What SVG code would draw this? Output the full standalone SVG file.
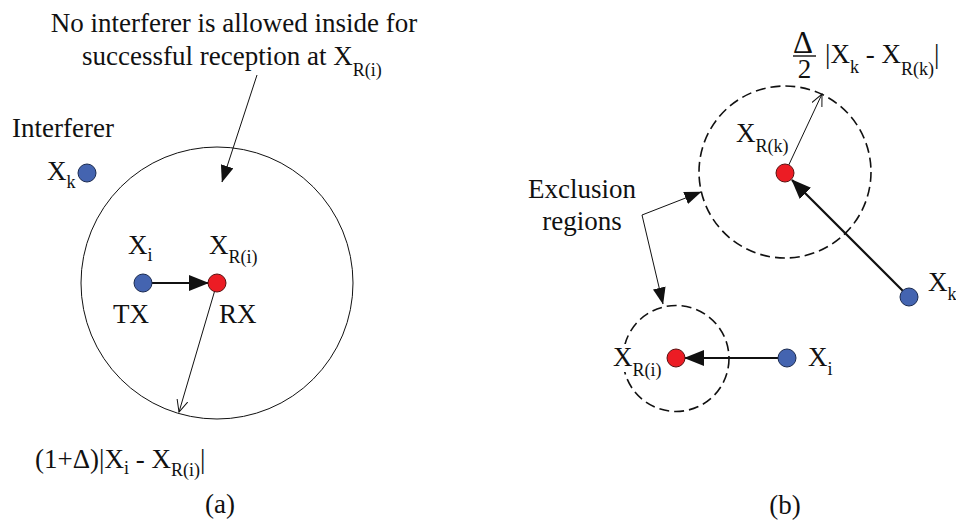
<svg xmlns="http://www.w3.org/2000/svg" width="956" height="524" viewBox="0 0 956 524">
<defs>
<style>
text{font-family:'Liberation Serif','Times New Roman',serif;font-size:27px;fill:#111}
.sub{font-size:18px}
.thin{stroke:#111;stroke-width:1;fill:none}
.thick{stroke:#111;stroke-width:2.2;fill:none}
.dash{stroke:#111;stroke-width:1.6;fill:none;stroke-dasharray:10 5}
.blue{fill:#4464B0;stroke:#1a2a50;stroke-width:1}
.red{fill:#EC1C24;stroke:#5a1010;stroke-width:1}
</style>
<marker id="bigHead" markerUnits="userSpaceOnUse" markerWidth="20" markerHeight="16" viewBox="0 0 20 16" refX="19" refY="8" orient="auto">
<path d="M0,0 L20,8 L0,16 Z" fill="#111"/>
</marker>
<marker id="smallHead" markerUnits="userSpaceOnUse" markerWidth="17" markerHeight="13" viewBox="0 0 17 13" refX="16.5" refY="6.5" orient="auto">
<path d="M0,0 L17,6.5 L0,13 Z" fill="#111"/>
</marker>
<marker id="openHead" markerUnits="userSpaceOnUse" markerWidth="13" markerHeight="12" viewBox="0 0 13 12" refX="12" refY="6" orient="auto">
<path d="M0,0.5 L12,6 L0,11.5" fill="none" stroke="#111" stroke-width="1"/>
</marker>
</defs>
<rect width="956" height="524" fill="#fff"/>

<g id="region-a">
<circle class="thin" cx="217" cy="283" r="136"/>
</g>
<g id="region-b-upper">
<circle class="dash" cx="785" cy="172" r="86"/>
</g>
<g id="region-b-lower">
<circle class="dash" cx="676" cy="358.5" r="53"/>
</g>

<g id="connectors">
<line class="thin" x1="257" y1="75" x2="222" y2="182" marker-end="url(#smallHead)"/>
<line class="thick" x1="152" y1="283" x2="208" y2="283" marker-end="url(#bigHead)"/>
<line class="thin" x1="217" y1="283" x2="179" y2="412" marker-end="url(#openHead)"/>
<line class="thin" x1="785" y1="173" x2="822" y2="94" marker-end="url(#openHead)"/>
<line class="thick" x1="903" y1="291" x2="792" y2="180" marker-end="url(#bigHead)"/>
<line class="thick" x1="778" y1="358" x2="685" y2="358" marker-end="url(#bigHead)"/>
<line class="thin" x1="642" y1="215" x2="701" y2="192" marker-end="url(#smallHead)"/>
<line class="thin" x1="642" y1="215" x2="663" y2="304" marker-end="url(#smallHead)"/>
</g>

<g id="interferer-a">
<circle class="blue" cx="87" cy="173" r="9"/>
<text x="12" y="137">Interferer</text>
<text x="47" y="180">X<tspan class="sub" dy="8">k</tspan></text>
</g>
<g id="tx-a">
<circle class="blue" cx="143" cy="283" r="9"/>
<text x="128" y="254">X<tspan class="sub" dy="7">i</tspan></text>
<text x="113" y="323">TX</text>
</g>
<g id="rx-a">
<circle class="red" cx="217" cy="283" r="9"/>
<text x="209" y="254">X<tspan class="sub" dy="9">R(i)</tspan></text>
<text x="219" y="323">RX</text>
</g>
<g id="label-top">
<text x="234" y="32" text-anchor="middle">No interferer is allowed inside for</text>
<text x="82" y="65">successful reception at X<tspan class="sub" dy="11">R(i)</tspan></text>
</g>
<g id="label-radius-a">
<text x="35" y="468">(1+Δ)|X<tspan class="sub" dy="6">i</tspan><tspan dy="-6"> - X</tspan><tspan class="sub" dy="8">R(i)</tspan><tspan dy="-8">|</tspan></text>
</g>
<text x="220" y="513" text-anchor="middle">(a)</text>

<g id="rk-b">
<circle class="red" cx="785" cy="173" r="9"/>
<text x="736" y="142">X<tspan class="sub" dy="10">R(k)</tspan></text>
</g>
<g id="label-radius-b">
<text x="803" y="53" text-anchor="middle" style="font-size:31px">Δ</text>
<line x1="793" y1="56" x2="816" y2="56" stroke="#111" stroke-width="1.4"/>
<text x="804.5" y="78" text-anchor="middle">2</text>
<text x="825" y="63">|X<tspan class="sub" dy="10">k</tspan><tspan dy="-10"> - X</tspan><tspan class="sub" dy="12">R(k)</tspan><tspan dy="-12">|</tspan></text>
</g>
<g id="xk-b">
<circle class="blue" cx="909" cy="297" r="9"/>
<text x="928" y="291">X<tspan class="sub" dy="9">k</tspan></text>
</g>
<g id="exclusion-label">
<text x="582" y="198" text-anchor="middle">Exclusion</text>
<text x="582" y="230" text-anchor="middle">regions</text>
</g>
<g id="ri-b">
<circle class="red" cx="676" cy="358" r="9"/>
<rect x="611" y="344" width="24" height="28" fill="#fff"/>
<text x="613" y="366">X<tspan class="sub" dy="10">R(i)</tspan></text>
</g>
<g id="xi-b">
<circle class="blue" cx="787" cy="358" r="9"/>
<text x="808" y="366">X<tspan class="sub" dy="9">i</tspan></text>
</g>
<text x="785" y="514" text-anchor="middle">(b)</text>
</svg>
